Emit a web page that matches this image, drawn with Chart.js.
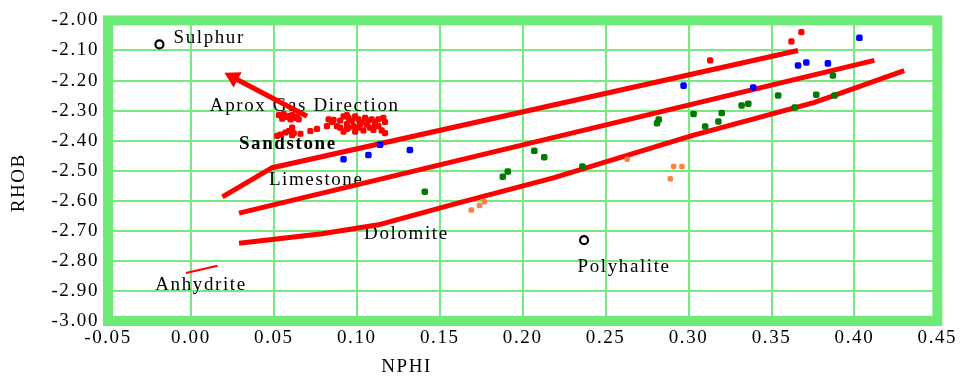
<!DOCTYPE html>
<html>
<head>
<meta charset="UTF-8">
<title>NPHI / RHOB crossplot</title>
<script src="https://cdn.jsdelivr.net/npm/chart.js@4.4.1/dist/chart.umd.min.js"></script>
<style>
  html, body { margin: 0; padding: 0; background: #fff; }
  #wrap { width: 960px; height: 380px; }
</style>
</head>
<body>
<div id="wrap"><canvas id="chart" width="960" height="380"></canvas></div>
<script>
const xTicks = [-0.05, 0, 0.05, 0.1, 0.15, 0.2, 0.25, 0.3, 0.35, 0.4, 0.45];
const xTickLabels = ["-0.05", "0.00", "0.05", "0.10", "0.15", "0.20", "0.25", "0.30", "0.35", "0.40", "0.45"];
const yTicks = [-3, -2.9, -2.8, -2.7, -2.6, -2.5, -2.4, -2.3, -2.2, -2.1, -2];
const yTickLabels = ["-3.00", "-2.90", "-2.80", "-2.70", "-2.60", "-2.50", "-2.40", "-2.30", "-2.20", "-2.10", "-2.00"];

// mineral lines
const sandstoneX = [0.019, 0.049, 0.366];
const sandstoneY = [-2.587, -2.49, -2.1];
const limestoneX = [0.029, 0.412];
const limestoneY = [-2.641, -2.133];
const dolomiteX = [0.029, 0.079, 0.113, 0.162, 0.219, 0.302, 0.376, 0.43];
const dolomiteY = [-2.741, -2.71, -2.68, -2.606, -2.523, -2.383, -2.273, -2.167];
const anhydriteX = [-0.003, 0.016];
const anhydriteY = [-2.84, -2.816];
const gasArrowX = [0.07, 0.0255];
const gasArrowY = [-2.319, -2.19];

// mineral points
const sulphurX = [-0.019];
const sulphurY = [-2.08];
const polyhaliteX = [0.237];
const polyhaliteY = [-2.731];

// log samples
const redX = [0.053, 0.056, 0.059, 0.061, 0.064, 0.055, 0.06, 0.065, 0.057, 0.062,
  0.052, 0.054, 0.057, 0.059, 0.061, 0.062, 0.061, 0.066, 0.072, 0.076,
  0.083, 0.085, 0.082, 0.09, 0.092, 0.094, 0.095, 0.097, 0.099, 0.101, 0.103, 0.105, 0.107, 0.109, 0.111, 0.113, 0.116, 0.117,
  0.095, 0.098, 0.101, 0.104, 0.108, 0.111, 0.115, 0.117,
  0.092, 0.094, 0.09, 0.088, 0.099, 0.106,
  0.086, 0.094, 0.102, 0.11, 0.113,
  0.368, 0.362, 0.313];
const redY = [-2.315, -2.312, -2.318, -2.315, -2.321, -2.327, -2.329, -2.329, -2.321, -2.324,
  -2.384, -2.38, -2.373, -2.368, -2.357, -2.375, -2.382, -2.377, -2.368, -2.361,
  -2.329, -2.338, -2.352, -2.333, -2.319, -2.315, -2.324, -2.333, -2.319, -2.329, -2.338, -2.324, -2.333, -2.329, -2.338, -2.329, -2.324, -2.338,
  -2.357, -2.352, -2.357, -2.366, -2.357, -2.352, -2.366, -2.375,
  -2.37, -2.361, -2.357, -2.352, -2.37, -2.347,
  -2.331, -2.345, -2.345, -2.364, -2.352,
  -2.039, -2.07, -2.133];
const blueX = [0.092, 0.107, 0.114, 0.132, 0.297, 0.339, 0.366, 0.371, 0.384, 0.403];
const blueY = [-2.462, -2.448, -2.414, -2.431, -2.217, -2.223, -2.15, -2.14, -2.143, -2.058];
const greenX = [0.141, 0.188, 0.191, 0.207, 0.213, 0.236, 0.281, 0.282, 0.303, 0.31, 0.318, 0.32, 0.332, 0.336, 0.354, 0.364, 0.377, 0.387, 0.388];
const greenY = [-2.57, -2.52, -2.503, -2.434, -2.455, -2.486, -2.342, -2.33, -2.311, -2.353, -2.336, -2.308, -2.283, -2.277, -2.25, -2.29, -2.247, -2.183, -2.25];
const orangeX = [0.169, 0.174, 0.177, 0.263, 0.291, 0.296, 0.289];
const orangeY = [-2.631, -2.616, -2.603, -2.462, -2.486, -2.486, -2.527];

// annotations (left edge, baseline)
const labelText = ["Sulphur", "Aprox Gas Direction", "Sandstone", "Limestone", "Dolomite", "Polyhalite", "Anhydrite"];
const labelX = [-0.0105, 0.0114, 0.0289, 0.047, 0.1044, 0.2331, -0.0215];
const labelY = [-2.076, -2.3, -2.428, -2.547, -2.728, -2.838, -2.897];
const labelBold = [false, false, true, false, false, false, false];

const gridColor = "#76ea7e";
const frameColor = "#6eea78";
const serif = "'Liberation Serif', 'Times New Roman', serif";

function pts(xs, ys) {
  return xs.map((x, i) => ({ x, y: ys[i] }));
}

function dots(data, color, radius) {
  return {
    data,
    showLine: false,
    pointStyle: "rectRounded",
    pointRadius: radius,
    backgroundColor: color,
    borderColor: color,
    borderWidth: 0,
  };
}

function line(data, width) {
  return {
    data,
    showLine: true,
    borderColor: "#ff0000",
    borderWidth: width,
    pointRadius: 0,
    tension: 0,
    fill: false,
  };
}

function ring(data) {
  return {
    data,
    showLine: false,
    pointStyle: "circle",
    pointRadius: 4,
    borderWidth: 2.2,
    borderColor: "#000",
    backgroundColor: "rgba(255,255,255,0)",
  };
}

const overlay = {
  id: "overlay",
  beforeDraw(chart) {
    chart.ctx.letterSpacing = "1.6px";
  },
  beforeDatasetsDraw(chart) {
    const { ctx, chartArea: a, scales } = chart;
    ctx.save();
    ctx.strokeStyle = frameColor;
    ctx.lineWidth = 10;
    ctx.strokeRect(a.left, a.top, a.right - a.left, a.bottom - a.top);

    ctx.fillStyle = "#000";
    ctx.textAlign = "left";
    ctx.textBaseline = "alphabetic";
    labelText.forEach((t, i) => {
      ctx.font = (labelBold[i] ? "bold " : "") + "19px " + serif;
      ctx.fillText(t, scales.x.getPixelForValue(labelX[i]), scales.y.getPixelForValue(labelY[i]));
    });
    ctx.restore();
  },
  afterDraw(chart) {
    const { ctx, chartArea: a } = chart;
    ctx.save();
    ctx.letterSpacing = "1.6px";
    ctx.fillStyle = "#000";
    ctx.font = "19px " + serif;
    ctx.textAlign = "center";
    ctx.textBaseline = "alphabetic";
    ctx.fillText("NPHI", a.left + (a.right - a.left) * 0.36, a.bottom + 51);

    ctx.translate(19, a.top + (a.bottom - a.top) * 0.54);
    ctx.rotate(-Math.PI / 2);
    ctx.textBaseline = "middle";
    ctx.fillText("RHOB", 0, 0);
    ctx.restore();
  },
};

new Chart(document.getElementById("chart"), {
  type: "scatter",
  data: {
    datasets: [
      dots(pts(greenX, greenY), "#007a00", 3.8),
      dots(pts(blueX, blueY), "#0000ff", 3.8),
      dots(pts(orangeX, orangeY), "#ff8040", 3.2),
      dots(pts(redX, redY), "#ff0000", 3.6),
      ring(pts(sulphurX, sulphurY)),
      ring(pts(polyhaliteX, polyhaliteY)),
      {
        data: pts(gasArrowX, gasArrowY),
        showLine: true,
        borderColor: "#ff0000",
        borderWidth: 5,
        backgroundColor: "#ff0000",
        pointStyle: "triangle",
        pointRadius: [0, 10],
        pointBorderWidth: 0,
        pointRotation: [0, -62],
      },
      line(pts(sandstoneX, sandstoneY), 5),
      line(pts(limestoneX, limestoneY), 5),
      line(pts(dolomiteX, dolomiteY), 5),
      line(pts(anhydriteX, anhydriteY), 2),
    ],
  },
  options: {
    responsive: false,
    animation: false,
    devicePixelRatio: 1,
    layout: { padding: { top: 14, right: 22, bottom: 0, left: 0 } },
    plugins: {
      legend: { display: false },
      tooltip: { enabled: false },
    },
    scales: {
      x: {
        type: "linear",
        min: -0.05,
        max: 0.45,
        afterBuildTicks(scale) {
          scale.ticks = xTicks.map((v) => ({ value: v }));
        },
        afterFit(scale) {
          scale.height = 59;
        },
        grid: { color: gridColor, lineWidth: 2, drawTicks: false },
        border: { display: false },
        ticks: {
          color: "#000",
          padding: 6,
          maxRotation: 0,
          autoSkip: false,
          font: { family: serif, size: 19 },
          callback: (v, i) => xTickLabels[i],
        },
      },
      y: {
        type: "linear",
        min: -3,
        max: -2,
        afterBuildTicks(scale) {
          scale.ticks = yTicks.map((v) => ({ value: v }));
        },
        afterFit(scale) {
          scale.width = 108;
        },
        grid: { color: gridColor, lineWidth: 2, drawTicks: false },
        border: { display: false },
        ticks: {
          color: "#000",
          padding: 9,
          autoSkip: false,
          font: { family: serif, size: 19 },
          callback: (v, i) => yTickLabels[i],
        },
      },
    },
  },
  plugins: [overlay],
});
</script>
</body>
</html>
